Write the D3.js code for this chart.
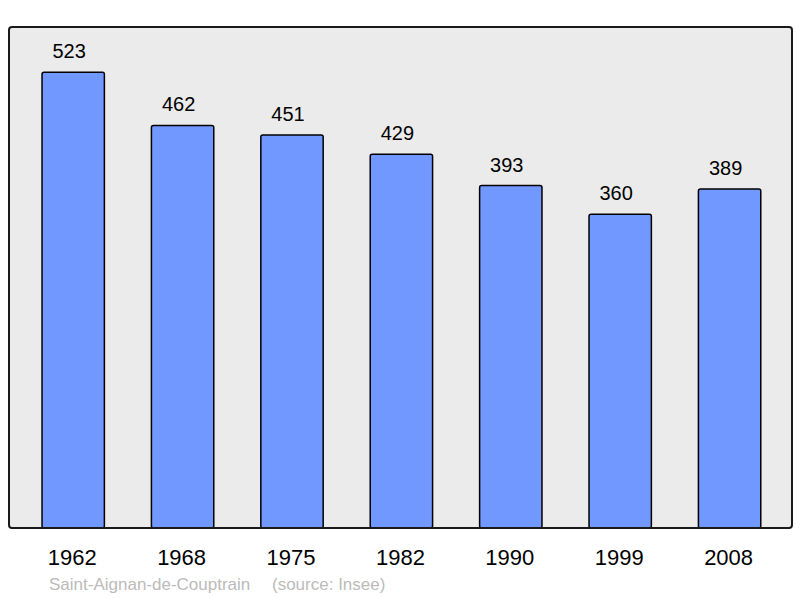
<!DOCTYPE html>
<html>
<head>
<meta charset="utf-8">
<script src="https://cdn.jsdelivr.net/npm/d3@7"></script>
<style>
  body { margin: 0; background: #fff; }
  svg { display: block; font-family: "Liberation Sans", Arial, sans-serif; }
</style>
</head>
<body>
<div id="chart"></div>
<script>
var years = ["1962", "1968", "1975", "1982", "1990", "1999", "2008"];
var population = [523, 462, 451, 429, 393, 360, 389];
var commune = "Saint-Aignan-de-Couptrain";
var source = "(source: Insee)";

var width = 800, height = 598;
var frame = { left: 9, top: 27, right: 792, bottom: 528 };

var svg = d3.select("#chart").append("svg")
    .attr("width", width)
    .attr("height", height);

// fond du graphique
svg.append("rect")
    .attr("x", frame.left)
    .attr("y", frame.top)
    .attr("width", frame.right - frame.left)
    .attr("height", frame.bottom - frame.top)
    .attr("rx", 3)
    .attr("fill", "#ebebeb");

var x = d3.scaleBand()
    .domain(years)
    .range([18.5, 784.3])
    .paddingInner(0.43)
    .paddingOuter(0.215);

var y = d3.scaleLinear()
    .domain([0, 575])
    .range([frame.bottom, frame.top]);

var data = years.map(function(d, i) { return { year: d, value: population[i] }; });

svg.selectAll(".bar")
    .data(data)
    .enter()
    .append("rect")
    .attr("class", "bar")
    .attr("x", function(d) { return x(d.year); })
    .attr("y", function(d) { return y(d.value); })
    .attr("width", x.bandwidth())
    .attr("height", function(d) { return y(0) - y(d.value); })
    .attr("rx", 2)
    .attr("fill", "#7098ff")
    .attr("stroke", "#000")
    .attr("stroke-width", 1.5);

// valeurs
svg.selectAll(".val")
    .data(data)
    .enter()
    .append("text")
    .attr("class", "val")
    .attr("x", function(d) { return x(d.year) + x.bandwidth() / 2 - 4; })
    .attr("y", function(d) { return y(d.value) - 14; })
    .attr("text-anchor", "middle")
    .attr("font-size", "20px")
    .attr("fill", "#000")
    .text(function(d) { return d.value; });

// cadre
svg.append("rect")
    .attr("x", frame.left)
    .attr("y", frame.top)
    .attr("width", frame.right - frame.left)
    .attr("height", frame.bottom - frame.top)
    .attr("rx", 3)
    .attr("fill", "none")
    .attr("stroke", "#1a1a1a")
    .attr("stroke-width", 2);

// axe x
var xAxis = svg.append("g")
    .attr("transform", "translate(0," + frame.bottom + ")")
    .call(d3.axisBottom(x).tickSize(0).tickPadding(21));
xAxis.select(".domain").remove();
xAxis.selectAll("text")
    .attr("font-size", "22px")
    .attr("font-family", "Liberation Sans, Arial, sans-serif")
    .attr("fill", "#000")
    .attr("dx", "-1");

svg.append("text")
    .attr("x", 49)
    .attr("y", 590)
    .attr("font-size", "17px")
    .attr("fill", "#bbbbbb")
    .text(commune);

svg.append("text")
    .attr("x", 272)
    .attr("y", 590)
    .attr("font-size", "17px")
    .attr("fill", "#bbbbbb")
    .text(source);
</script>
</body>
</html>
